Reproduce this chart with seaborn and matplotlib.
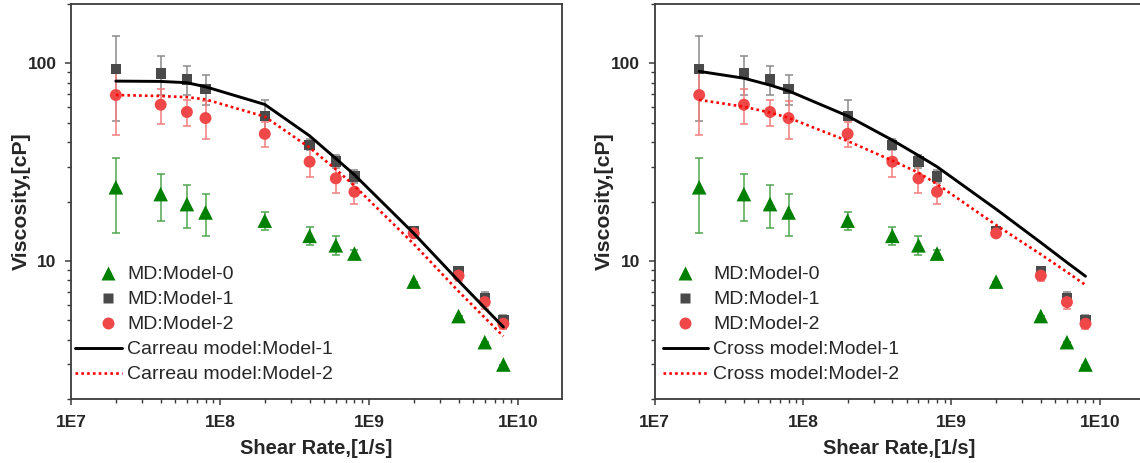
import numpy as np
import pandas as pd
import matplotlib
matplotlib.use("Agg")
import matplotlib.pyplot as plt
import seaborn as sns
from matplotlib.lines import Line2D
from matplotlib.legend_handler import HandlerLine2D
from matplotlib.ticker import FixedLocator, FixedFormatter, LogLocator, NullFormatter

# ---------------- data ----------------
shear_rate = [2e7, 4e7, 6e7, 8e7, 2e8, 4e8, 6e8, 8e8, 2e9, 4e9, 6e9, 8e9]

model0 = [23.6, 21.8, 19.4, 17.6, 16.0, 13.4, 12.0, 10.9, 7.86, 5.26, 3.88, 2.99]
model0_err = [9.7, 5.8, 4.8, 4.2, 1.7, 1.4, 1.3, 0.5, 0.0, 0.0, 0.0, 0.0]
model1 = [94, 89, 83, 74.5, 54, 38.8, 31.9, 26.8, 14.2, 8.87, 6.5, 5.0]
model1_err = [43, 20, 14, 13, 11, 2.5, 2.5, 2.0, 0.6, 0.5, 0.5, 0.3]
model2 = [69.2, 61.8, 56.8, 52.9, 44, 31.8, 26.2, 22.4, 13.8, 8.43, 6.19, 4.81]
model2_err = [26, 12.5, 8.6, 11.6, 6.4, 5.3, 4.0, 3.0, 0.5, 0.5, 0.5, 0.3]

carreau1 = [81.4, 81.1, 79.9, 76.2, 62.0, 43.0, 33.0, 27.3, 13.8, 7.93, 5.78, 4.63]
carreau2 = [69.2, 68.4, 67.5, 65.8, 53.8, 37.5, 29.1, 24.0, 12.2, 7.02, 5.16, 4.16]

cross1 = [91.2, 84.2, 77.7, 72.6, 54.2, 40.9, 34.2, 30.0, 18.3, 12.4, 9.83, 8.37]
cross2 = [65.4, 60.4, 56.4, 53.1, 40.5, 32.2, 28.0, 24.5, 15.2, 10.8, 8.79, 7.56]

x_ticks = [1e7, 1e8, 1e9, 1e10]
x_tick_labels = ["1E7", "1E8", "1E9", "1E10"]
y_ticks = [10, 100]
y_tick_labels = ["10", "100"]

md_labels = ["MD:Model-0", "MD:Model-1", "MD:Model-2"]

# ---------------- style ----------------
sns.set_theme(style="ticks")
plt.rcParams["font.family"] = ["Liberation Sans", "DejaVu Sans"]

GREEN = "#008000"
GREEN_ERR = "#4fa64f"
GREY = "#4a4a4a"
GREY_ERR = "#8a8a8a"
RED = "#f04848"
RED_ERR = "#f27d7d"
SPINE = "#3a3a3a"

W, H = 1140, 463
fig = plt.figure(figsize=(W / 100, H / 100), dpi=100)

df = pd.DataFrame({"x": shear_rate, "m0": model0, "m1": model1, "m2": model2,
                   "c1": carreau1, "c2": carreau2, "x1": cross1, "x2": cross2})


class ShiftedMarkerHandler(HandlerLine2D):
    """Legend marker placed a bit right of the handle centre."""
    def __init__(self, shift=0.0, **kw):
        super().__init__(**kw)
        self._shift = shift

    def get_xdata(self, legend, xdescent, ydescent, width, height, fontsize):
        xdata, xdata_marker = super().get_xdata(legend, xdescent, ydescent,
                                                width, height, fontsize)
        d = self._shift * width
        return ([x + d for x in xdata], [x + d for x in xdata_marker])


def panel(ax, fit1, fit2, fit_name):
    ax.set_xscale("log")
    ax.set_yscale("log")
    for col, err, ecol in (("m0", model0_err, GREEN_ERR), ("m1", model1_err, GREY_ERR),
                           ("m2", model2_err, RED_ERR)):
        ax.errorbar(df["x"], df[col], yerr=err, fmt="none", ecolor=ecol,
                    elinewidth=1.1, capsize=3.2, capthick=1.1, zorder=2)
    sns.scatterplot(data=df, x="x", y="m0", marker="^", s=10.5 ** 2, color=GREEN,
                    edgecolor="none", ax=ax, zorder=3, legend=False)
    sns.scatterplot(data=df, x="x", y="m1", marker="s", s=7.4 ** 2, color=GREY,
                    edgecolor="none", ax=ax, zorder=3, legend=False)
    sns.scatterplot(data=df, x="x", y="m2", marker="o", s=8.6 ** 2, color=RED,
                    edgecolor="none", ax=ax, zorder=4, legend=False)
    sns.lineplot(data=df, x="x", y=fit1, color="black", lw=2.1, ax=ax, zorder=5,
                 legend=False)
    sns.lineplot(data=df, x="x", y=fit2, color="#ff0000", lw=1.9,
                 linestyle=(0, (1, 1.2)), ax=ax, zorder=5, legend=False)

    ax.set_xlim(1e7, 1.98e10)
    ax.set_ylim(2.0, 200)
    ax.xaxis.set_major_locator(FixedLocator(x_ticks))
    ax.xaxis.set_major_formatter(FixedFormatter(x_tick_labels))
    ax.xaxis.set_minor_locator(LogLocator(base=10, subs=np.arange(2, 10), numticks=20))
    ax.xaxis.set_minor_formatter(NullFormatter())
    ax.yaxis.set_major_locator(FixedLocator(y_ticks))
    ax.yaxis.set_major_formatter(FixedFormatter(y_tick_labels))
    ax.yaxis.set_minor_locator(LogLocator(base=10, subs=np.arange(2, 10), numticks=20))
    ax.yaxis.set_minor_formatter(NullFormatter())

    ax.tick_params(which="major", direction="out", length=4.5, width=1.1, color=SPINE,
                   labelsize=12.5)
    ax.tick_params(axis="x", which="major", pad=7)
    ax.tick_params(axis="y", which="major", pad=6)
    ax.tick_params(which="minor", direction="out", length=2.6, width=1.0, color=SPINE)
    for lab in ax.get_xticklabels() + ax.get_yticklabels():
        lab.set_fontweight("bold")
    for sp in ax.spines.values():
        sp.set_color(SPINE)
        sp.set_linewidth(1.3)

    ax.set_xlabel("Shear Rate,[1/s]", fontsize=14.5, fontweight="bold")
    ax.set_ylabel("Viscosity,[cP]", fontsize=15.3, fontweight="bold")
    ax.grid(False)

    handles = [
        Line2D([], [], ls="none", marker="^", ms=10.5, color=GREEN, mec="none"),
        Line2D([], [], ls="none", marker="s", ms=7.4, color=GREY, mec="none"),
        Line2D([], [], ls="none", marker="o", ms=8.6, color=RED, mec="none"),
        Line2D([], [], color="black", lw=2.1),
        Line2D([], [], color="#ff0000", lw=1.9, ls=(0, (1, 1.2))),
    ]
    labels = md_labels + [f"{fit_name} model:Model-1", f"{fit_name} model:Model-2"]
    return handles, labels


ax1 = fig.add_axes([71 / W, (H - 399) / H, 491 / W, 395 / H])
h, l = panel(ax1, "c1", "c2", "Carreau")
hm = {hh: ShiftedMarkerHandler(shift=0.21) for hh in h[:3]}
ax1.legend(h, l, loc="upper left", bbox_to_anchor=(0.008, 0.337), frameon=False,
           fontsize=14, handlelength=2.4, handletextpad=0.3, labelspacing=0.38,
           borderpad=0, borderaxespad=0, handler_map=hm)
ax1.yaxis.set_label_coords(-0.082, 0.5)
ax1.xaxis.set_label_coords(0.5, -0.10)

ax2 = fig.add_axes([654.5 / W, (H - 399) / H, 489.4 / W, 395 / H])
h, l = panel(ax2, "x1", "x2", "Cross")
ax2.legend(h, l, loc="upper left", bbox_to_anchor=(0.017, 0.337), frameon=False,
           fontsize=14, handlelength=2.3, handletextpad=0.3, labelspacing=0.38,
           borderpad=0, borderaxespad=0)
ax2.yaxis.set_label_coords(-0.084, 0.5)
ax2.xaxis.set_label_coords(0.5, -0.10)

fig.savefig("out.png", dpi=100)
